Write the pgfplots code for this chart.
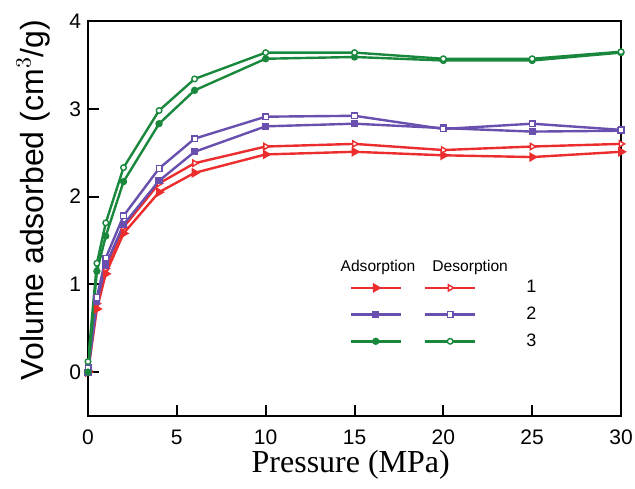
\documentclass[border=0pt]{standalone}
\usepackage{fontspec}
\setmainfont{Liberation Sans}
\newfontfamily\timesfont{Liberation Serif}
\usepackage{pgfplots}
\pgfplotsset{compat=1.18}
\definecolor{cred}{RGB}{235,45,45}
\definecolor{cpur}{RGB}{105,80,175}
\definecolor{cgrn}{RGB}{25,135,60}
\begin{document}
\begin{tikzpicture}
\begin{axis}[
  name=ax,
  scale only axis,
  width=266.5pt, height=197.5pt,
  xmin=0, xmax=30, ymin=-0.5, ymax=4,
  xtick={0,5,10,15,20,25,30},
  ytick={0,1,2,3,4},
  tick pos=left, tick align=inside,
  major tick length=5.5pt,
  axis line style={line width=1pt},
  every tick/.style={black, line width=1pt},
  /pgf/number format/assume math mode=true,
  tick label style={font=\fontsize{10.5}{12}\selectfont},
  xticklabel style={yshift=-3.5pt},
  xlabel={\timesfont Pressure (MPa)},
  ylabel={Volume adsorbed (cm$^{3}$/g)},
  xlabel style={font=\fontsize{16}{18}\selectfont, at={(axis description cs:0.493,-0.124)}, anchor=center},
  ylabel style={font=\fontsize{16}{18}\selectfont, at={(axis description cs:-0.103,0.547)}, anchor=center},
  legend columns=2,
  legend image code/.code={\draw[mark repeat=2,mark phase=2] plot coordinates {(0pt,0pt)(12.5pt,0pt)(25pt,0pt)};},
  legend style={at={(axis description cs:0.49,0.355)}, anchor=north west, draw=none, fill=none,
    font=\fontsize{9}{9}\selectfont, row sep=1.6pt, inner sep=0pt,
    /tikz/every even column/.append style={column sep=7pt}},
  every axis plot/.append style={line width=1.2pt},
]
\addplot[cred, mark=triangle*, mark options={rotate=-90, mark size=1.7pt, solid}] coordinates {
 (0,0) (0.5,0.72) (1,1.12) (2,1.58) (4,2.05) (6,2.27) (10,2.48) (15,2.51) (20,2.47) (25,2.45) (30,2.51)};
\addlegendentry{}
\addplot[cred, mark=triangle*, mark options={rotate=-90, mark size=1.8pt, fill=white, line width=0.7pt}] coordinates {
 (0,0.02) (0.5,0.78) (1,1.18) (2,1.65) (4,2.15) (6,2.38) (10,2.57) (15,2.60) (20,2.53) (25,2.57) (30,2.60)};
\addlegendentry{\hspace{23pt}1}
\addplot[cpur, mark=square*, mark options={mark size=1.2pt}] coordinates {
 (0,0) (0.5,0.80) (1,1.22) (2,1.68) (4,2.18) (6,2.51) (10,2.80) (15,2.83) (20,2.78) (25,2.74) (30,2.75)};
\addlegendentry{}
\addplot[cpur, mark=square*, mark options={mark size=1.4pt, fill=white, line width=0.7pt}] coordinates {
 (0,0.05) (0.5,0.85) (1,1.30) (2,1.78) (4,2.32) (6,2.66) (10,2.91) (15,2.92) (20,2.77) (25,2.83) (30,2.76)};
\addlegendentry{\hspace{23pt}2}
\addplot[cgrn, mark=*, mark options={mark size=1.2pt}] coordinates {
 (0,0) (0.5,1.15) (1,1.55) (2,2.17) (4,2.83) (6,3.21) (10,3.57) (15,3.59) (20,3.55) (25,3.55) (30,3.64)};
\addlegendentry{}
\addplot[cgrn, mark=*, mark options={mark size=1.4pt, fill=white, line width=0.7pt}] coordinates {
 (0,0.12) (0.5,1.24) (1,1.70) (2,2.33) (4,2.98) (6,3.34) (10,3.64) (15,3.64) (20,3.57) (25,3.57) (30,3.65)};
\addlegendentry{\hspace{23pt}3}
\node[font=\fontsize{7.8}{9}\selectfont] at (axis description cs:0.544,0.375) {Adsorption};
\node[font=\fontsize{7.8}{9}\selectfont] at (axis description cs:0.717,0.375) {Desorption};
\end{axis}
\pgfresetboundingbox
\path[use as bounding box] ([shift={(-44pt,-36pt)}]ax.south west) rectangle ([shift={(7pt,10.5pt)}]ax.north east);
\end{tikzpicture}
\end{document}
